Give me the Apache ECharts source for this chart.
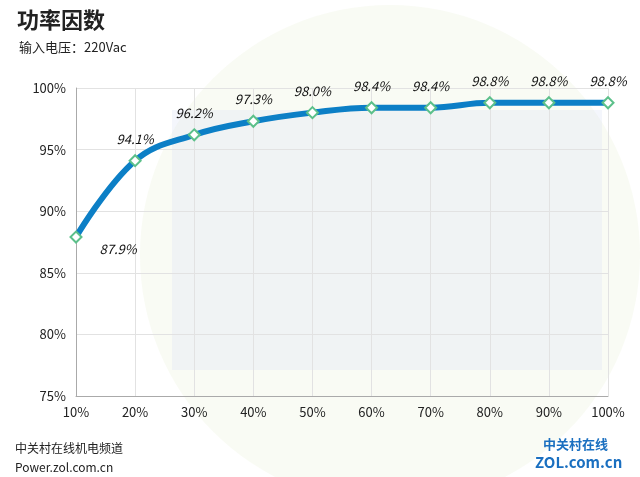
<!DOCTYPE html>
<html><head><meta charset="utf-8">
<script src="https://cdn.jsdelivr.net/npm/echarts@6/dist/echarts.min.js"></script>
<style>html,body{margin:0;padding:0;background:#fff}#c{width:640px;height:477px}</style>
</head><body><div id="c"></div>
<script>
const categories = ['10%','20%','30%','40%','50%','60%','70%','80%','90%','100%'];
const powerFactor = [87.9, 94.1, 96.2, 97.3, 98.0, 98.4, 98.4, 98.8, 98.8, 98.8];
const yTicks = [75, 80, 85, 90, 95, 100];

const chart = echarts.init(document.getElementById('c'));
const font = '"Noto Sans CJK SC", "Noto Sans", sans-serif';
chart.setOption({
  animation: false,
  textStyle: {fontFamily: font},
  title: [
    {text: '功率因数', left: 12, top: 4, textStyle: {fontSize: 22, fontWeight: 'bold', color: '#222', fontFamily: font}},
    {text: '输入电压：220Vac', left: 14, top: 36, textStyle: {fontSize: 13, fontWeight: 'normal', color: '#222', fontFamily: font}},
    {text: '中关村在线机电频道', left: 10, top: 437, textStyle: {fontSize: 12, fontWeight: 'normal', color: '#222', fontFamily: font}},
    {text: 'Power.zol.com.cn', left: 10, top: 456, textStyle: {fontSize: 12, fontWeight: 'normal', color: '#222', fontFamily: font}},
    {text: '中关村在线', left: 538, top: 433, textStyle: {fontSize: 13, fontWeight: 'bold', color: '#1a6fc0', fontFamily: font}},
    {text: 'ZOL.com.cn', left: 530, top: 450, textStyle: {fontSize: 15, fontWeight: 'bold', color: '#1a6fc0', fontFamily: font}}
  ],
  graphic: [
    {type: 'circle', shape: {cx: 390, cy: 255, r: 250}, style: {fill: 'rgba(225,235,200,0.2)'}, z: -10},
    {type: 'rect', shape: {x: 172, y: 110, width: 430, height: 260}, style: {fill: 'rgba(205,215,240,0.22)'}, z: -9}
  ],
  grid: {left: 76, right: 32, top: 88, bottom: 81},
  xAxis: {
    type: 'category', data: categories, boundaryGap: false,
    axisLine: {lineStyle: {color: '#aaa'}}, axisTick: {show: false},
    axisLabel: {color: '#222', fontSize: 13, margin: 10},
    splitLine: {show: true, lineStyle: {color: '#e2e2e2'}}
  },
  yAxis: {
    type: 'value', min: yTicks[0], max: yTicks[yTicks.length-1], interval: 5,
    axisLine: {show: true, lineStyle: {color: '#aaa'}}, axisTick: {show: false},
    axisLabel: {color: '#222', fontSize: 13, formatter: '{value}%', margin: 10},
    splitLine: {lineStyle: {color: '#e2e2e2'}}
  },
  series: [{
    type: 'line', data: powerFactor.map((v,i)=> i===0 ? {value: v, label: {position: 'right', offset: [8, 12]}} : v),
    smooth: 0.4,
    lineStyle: {color: '#0c7fc6', width: 6},
    symbol: 'diamond', symbolSize: 11,
    itemStyle: {color: '#fff', borderColor: '#5cc08a', borderWidth: 2},
    label: {show: true, position: 'top', distance: 9, formatter: p => p.value.toFixed(1) + '%', fontStyle: 'italic', fontSize: 13, color: '#111'}
  }]
});
</script></body></html>
